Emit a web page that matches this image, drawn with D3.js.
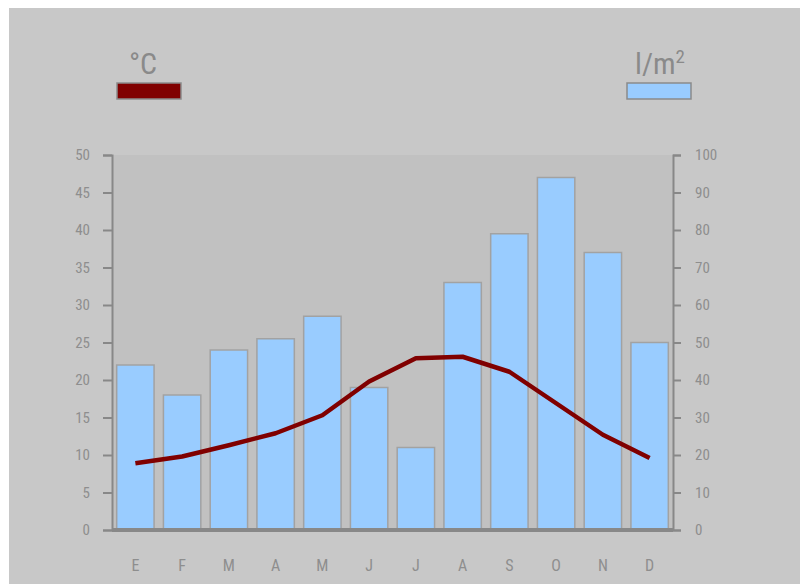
<!DOCTYPE html>
<html>
<head>
<meta charset="utf-8">
<script src="https://cdn.jsdelivr.net/npm/d3@7"></script>
<style>
  body { margin: 0; background: #ffffff; }
  text { font-family: "Liberation Sans Narrow", "Roboto Condensed", "Arial Narrow", "Liberation Sans", sans-serif; }
</style>
</head>
<body>
<div id="chart"></div>
<script>
// climate chart data
const months = ["E", "F", "M", "A", "M", "J", "J", "A", "S", "O", "N", "D"];
const temperature = [8.9, 9.8, 11.3, 12.9, 15.3, 19.8, 22.9, 23.1, 21.1, 16.9, 12.7, 9.6];
const rainfall = [44, 36, 48, 51, 57, 38, 22, 66, 79, 94, 74, 50];
const tempTicks = [0, 5, 10, 15, 20, 25, 30, 35, 40, 45, 50];
const rainTicks = [0, 10, 20, 30, 40, 50, 60, 70, 80, 90, 100];

const W = 800, H = 584;
const plot = { left: 112, right: 673, top: 155, bottom: 530 };

const svg = d3.select("#chart").append("svg")
    .attr("width", W)
    .attr("height", H);

// gray card
svg.append("rect")
    .attr("x", 9).attr("y", 8)
    .attr("width", W - 9).attr("height", H - 8)
    .attr("fill", "#c8c8c8");

// plot area
svg.append("rect")
    .attr("x", plot.left).attr("y", plot.top)
    .attr("width", plot.right - plot.left).attr("height", plot.bottom - plot.top)
    .attr("fill", "#c1c1c1");

// scales
const x = d3.scaleBand().domain(d3.range(months.length))
    .range([plot.left, plot.right]).paddingInner(0.2).paddingOuter(0.1);
const yT = d3.scaleLinear().domain([0, 50]).range([plot.bottom, plot.top]);
const yR = d3.scaleLinear().domain([0, 100]).range([plot.bottom, plot.top]);

// bars (rainfall)
svg.append("g").selectAll("rect")
    .data(rainfall)
    .join("rect")
    .attr("x", (d, i) => x(i))
    .attr("y", d => yR(d))
    .attr("width", x.bandwidth())
    .attr("height", d => plot.bottom - yR(d))
    .attr("fill", "#99ccff")
    .attr("stroke", "#a2a2a2")
    .attr("stroke-width", 1.5);

// axes
const leftAxis = d3.axisLeft(yT).tickValues(tempTicks).tickSize(9).tickPadding(13);
const rightAxis = d3.axisRight(yR).tickValues(rainTicks).tickSize(8).tickPadding(14);

function styleAxis(g) {
    g.select(".domain").attr("stroke", "#888888").attr("stroke-width", 2);
    g.selectAll(".tick line").attr("stroke", "#888888").attr("stroke-width", 2);
    g.selectAll(".tick text")
        .attr("fill", "#8e8e8e")
        .style("font-size", "15px");
}

svg.append("g")
    .attr("transform", `translate(${plot.left},0)`)
    .call(leftAxis)
    .call(styleAxis);

svg.append("g")
    .attr("transform", `translate(${plot.right},0)`)
    .call(rightAxis)
    .call(styleAxis);

// thick baseline
svg.append("line")
    .attr("x1", plot.left).attr("x2", plot.right)
    .attr("y1", plot.bottom).attr("y2", plot.bottom)
    .attr("stroke", "#888888")
    .attr("stroke-width", 4);

// month labels
svg.append("g").selectAll("text")
    .data(months)
    .join("text")
    .attr("x", (d, i) => x(i) + x.bandwidth() / 2)
    .attr("y", 571)
    .attr("text-anchor", "middle")
    .attr("fill", "#8e8e8e")
    .style("font-size", "16px")
    .text(d => d);

// temperature line
const line = d3.line()
    .x((d, i) => x(i) + x.bandwidth() / 2)
    .y(d => yT(d));

svg.append("path")
    .datum(temperature)
    .attr("d", line)
    .attr("fill", "none")
    .attr("stroke", "#800000")
    .attr("stroke-width", 4.5)
    .attr("stroke-linejoin", "round");

// legends
svg.append("text")
    .attr("x", 143).attr("y", 74)
    .attr("text-anchor", "middle")
    .attr("fill", "#8a8a8a")
    .style("font-size", "30px")
    .text("°C");
svg.append("rect")
    .attr("x", 117).attr("y", 83).attr("width", 64).attr("height", 16)
    .attr("fill", "#800000").attr("stroke", "#8a8a8a").attr("stroke-width", 1.5);

const unit = svg.append("text")
    .attr("x", 660).attr("y", 74)
    .attr("text-anchor", "middle")
    .attr("fill", "#8a8a8a")
    .style("font-size", "30px");
unit.append("tspan").text("l/m");
unit.append("tspan").attr("dy", -11).style("font-size", "19px").text("2");
svg.append("rect")
    .attr("x", 627).attr("y", 83).attr("width", 64).attr("height", 16)
    .attr("fill", "#99ccff").attr("stroke", "#8a8a8a").attr("stroke-width", 1.5);
</script>
</body>
</html>
